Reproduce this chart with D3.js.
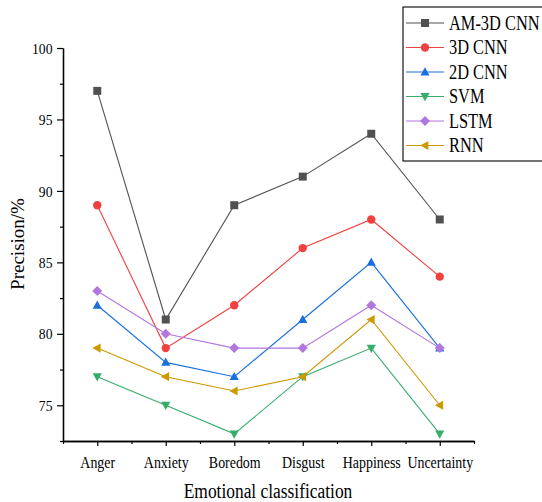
<!DOCTYPE html>
<html>
<head>
<meta charset="utf-8">
<script src="https://cdn.jsdelivr.net/npm/d3@7"></script>
<style>
  body { margin: 0; background: #fff; overflow: hidden; }
  text { font-family: "Liberation Serif", "Times New Roman", serif; fill: #000; }
</style>
</head>
<body>
<svg></svg>
<script>
var categories = ["Anger", "Anxiety", "Boredom", "Disgust", "Happiness", "Uncertainty"];
var seriesNames = ["AM-3D CNN", "3D CNN", "2D CNN", "SVM", "LSTM", "RNN"];
var am3dcnn = [97, 81, 89, 91, 94, 88];
var cnn3d = [89, 79, 82, 86, 88, 84];
var cnn2d = [82, 78, 77, 81, 85, 79];
var svm = [77, 75, 73, 77, 79, 73];
var lstm = [83, 80, 79, 79, 82, 79];
var rnn = [79, 77, 76, 77, 81, 75];
var yTicks = [75, 80, 85, 90, 95, 100];

var screen = {width: 542, height: 502};
var colors = ["#515151", "#F14040", "#1A6FDF", "#37AD6B", "#B177DE", "#CC9900"];
var symbols = ["square", "circle", "up", "down", "diamond", "left"];
var squash = "scale(0.87,1)";

var series = [am3dcnn, cnn3d, cnn2d, svm, lstm, rnn].map(function(vals, i){
    return {name: seriesNames[i], values: vals, color: colors[i], sym: symbols[i]};
});

var svg = d3.select("svg")
    .attr("width", screen.width)
    .attr("height", screen.height);

var xScale = d3.scaleLinear().domain([-0.5, 5.5]).range([63, 474]);
var yScale = d3.scaleLinear().domain([72.5, 100]).range([441, 48]);

// marker path
var marker = function(sym, s){
    if (sym == "square") return "M"+(-s)+","+(-s)+"H"+s+"V"+s+"H"+(-s)+"Z";
    if (sym == "circle") return d3.symbol().type(d3.symbolCircle).size(Math.PI*s*s*1.1)();
    if (sym == "up") return "M0,"+(-s*1.2)+"L"+(s*1.15)+","+(s*0.85)+"L"+(-s*1.15)+","+(s*0.85)+"Z";
    if (sym == "down") return "M0,"+(s*1.2)+"L"+(s*1.15)+","+(-s*0.85)+"L"+(-s*1.15)+","+(-s*0.85)+"Z";
    if (sym == "diamond") return "M0,"+(-s*1.25)+"L"+(s*1.25)+",0L0,"+(s*1.25)+"L"+(-s*1.25)+",0Z";
    if (sym == "left") return "M"+(-s*1.2)+",0L"+(s*0.85)+","+(-s*1.15)+"L"+(s*0.85)+","+(s*1.15)+"Z";
}

// axes
var xAxis = d3.axisBottom(xScale)
    .tickValues(d3.range(0, 6))
    .tickFormat(function(d){ return categories[d]; })
    .tickSize(5).tickSizeOuter(0);
var xMinor = d3.axisBottom(xScale)
    .tickValues(d3.range(-0.5, 6, 1))
    .tickFormat("").tickSize(3).tickSizeOuter(0);

var yAxis = d3.axisLeft(yScale).tickValues(yTicks).tickSize(6).tickSizeOuter(0);
var yMinor = d3.axisLeft(yScale).tickValues([72.5, 77.5, 82.5, 87.5, 92.5, 97.5])
    .tickFormat("").tickSize(3).tickSizeOuter(0);

svg.append("g").attr("transform", "translate(0,441)").call(xMinor);
var gx = svg.append("g").attr("transform", "translate(0,441)").call(xAxis);
gx.selectAll("text").attr("dy", 0).attr("y", 27)
    .attr("transform", squash)
    .style("font-size", "16px");

svg.append("g").attr("transform", "translate(63,0)").call(yMinor);
var gy = svg.append("g").attr("transform", "translate(63,0)").call(yAxis);
gy.selectAll("text").attr("x", -12).attr("dy", "0.33em")
    .attr("transform", "scale(0.88,1)")
    .style("font-size", "15.5px");

svg.selectAll(".domain").attr("stroke", "#000").attr("stroke-width", 1.3);
svg.selectAll(".tick line").attr("stroke", "#000").attr("stroke-width", 1.2);

// titles
svg.append("text")
    .attr("transform", "translate(268,498) " + squash)
    .attr("text-anchor", "middle")
    .style("font-size", "20px")
    .text("Emotional classification");

svg.append("text")
    .attr("transform", "translate(24,244) rotate(-90)")
    .attr("text-anchor", "middle")
    .style("font-size", "19px")
    .text("Precision/%");

// lines + markers
var line = d3.line()
    .x(function(d, i){ return xScale(i); })
    .y(function(d){ return yScale(d); });

series.forEach(function(s){
    svg.append("path")
        .datum(s.values)
        .attr("fill", "none")
        .attr("stroke", s.color)
        .attr("stroke-width", 1.1)
        .attr("d", line);
});
series.forEach(function(s){
    svg.selectAll(null)
        .data(s.values)
        .enter()
        .append("path")
        .attr("transform", function(d, i){ return "translate("+xScale(i)+","+yScale(d)+")"; })
        .attr("d", marker(s.sym, 4))
        .attr("fill", s.color);
});

// legend
var legend = svg.append("g").attr("transform", "translate(403,7)");
legend.append("rect")
    .attr("x", 0).attr("y", 0)
    .attr("width", 150).attr("height", 154)
    .attr("fill", "white").attr("stroke", "#000").attr("stroke-width", 1.1);

var items = legend.selectAll("g.item")
    .data(series)
    .enter()
    .append("g")
    .attr("class", "item")
    .attr("transform", function(d, i){ return "translate(0,"+(16 + i*24.5)+")"; });

items.append("line")
    .attr("x1", 3).attr("x2", 41)
    .attr("stroke", function(d){ return d.color; })
    .attr("stroke-width", 1.1);
items.append("path")
    .attr("transform", "translate(22,0)")
    .attr("d", function(d){ return marker(d.sym, 4); })
    .attr("fill", function(d){ return d.color; });
items.append("text")
    .attr("transform", "translate(46,6.5) scale(0.82,1)")
    .style("font-size", "20px")
    .text(function(d){ return d.name; });
</script>
</body>
</html>
